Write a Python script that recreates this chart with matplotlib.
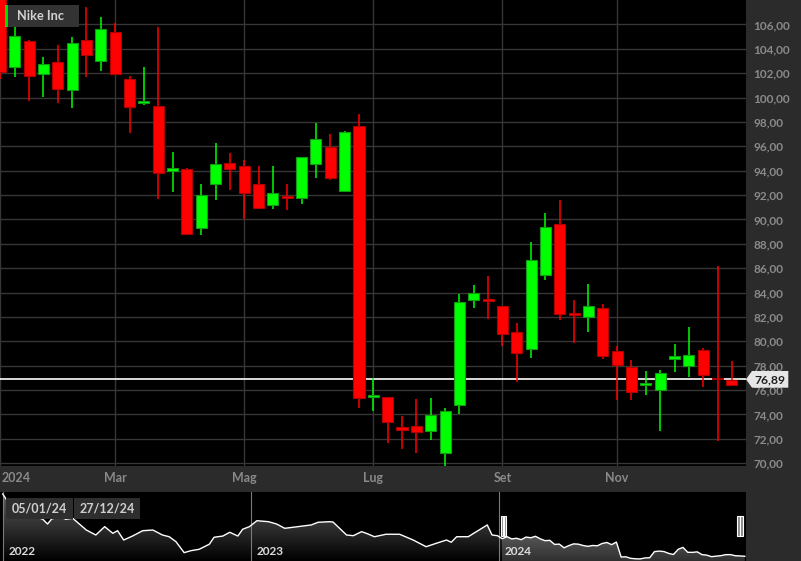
"""
Nike Inc - bougies hebdomadaires 2024 + navigateur 2022-2024 (style terminal sombre).
"""
import numpy as np
import pandas as pd
import matplotlib
matplotlib.use("Agg")
import matplotlib.pyplot as plt
import matplotlib.dates as mdates
from matplotlib.patches import Rectangle, Polygon
from matplotlib.colors import LinearSegmentedColormap

plt.rcParams["font.family"] = ["Lato", "DejaVu Sans"]

# ============================================================================
# DONNÉES
# ============================================================================
TITLE = "Nike Inc"
FIRST_WEEK = "2024-01-05"

OPEN = [108.30, 102.52, 104.66, 101.92, 102.88, 100.61, 104.69, 102.99, 105.37, 101.49,
        99.55, 99.29, 93.98, 94.14, 89.30, 92.94, 94.61, 94.42, 92.89, 91.19,
        91.93, 91.79, 94.55, 95.93, 92.34, 97.68, 75.47, 75.39, 72.95, 73.03,
        72.68, 70.85, 74.74, 83.42, 83.47, 82.87, 80.73, 79.39, 85.44, 89.66,
        82.35, 81.96, 82.70, 79.17, 77.88, 76.38, 75.97, 78.51, 78.00, 79.28,
        77.01, 76.79]
HIGH = [108.80, 105.81, 104.75, 103.29, 104.28, 104.94, 107.40, 106.58, 106.09, 101.73,
        102.47, 105.76, 95.49, 94.20, 92.89, 96.23, 95.41, 94.86, 94.37, 94.37,
        92.89, 95.12, 97.95, 96.97, 97.25, 98.61, 77.01, 75.45, 73.86, 75.29,
        75.37, 74.51, 83.91, 84.65, 85.37, 82.90, 81.53, 88.18, 90.56, 91.63,
        83.42, 84.73, 83.09, 79.61, 78.43, 77.55, 77.61, 79.80, 81.17, 79.44,
        86.15, 78.35]
LOW = [101.50, 101.70, 99.70, 100.06, 99.52, 99.10, 101.65, 102.14, 101.86, 97.05,
       99.35, 91.71, 92.25, 88.76, 88.76, 91.63, 92.45, 90.01, 90.88, 90.86,
       90.81, 91.30, 93.40, 93.22, 92.25, 74.51, 74.27, 71.67, 71.18, 70.87,
       71.92, 69.78, 74.05, 82.73, 81.86, 79.64, 76.65, 78.62, 85.06, 81.77,
       79.85, 80.79, 78.51, 75.20, 75.15, 75.61, 72.62, 77.47, 77.06, 76.24,
       71.86, 76.30]
CLOSE = [102.10, 105.07, 101.78, 102.74, 100.69, 104.49, 103.51, 105.62, 101.92, 99.19,
         99.72, 93.77, 94.20, 88.84, 91.98, 94.53, 94.12, 92.17, 90.92, 92.17,
         91.79, 95.08, 96.58, 93.38, 97.18, 75.33, 75.61, 73.42, 72.74, 72.54,
         73.97, 74.27, 83.19, 84.00, 83.30, 80.62, 79.01, 86.64, 89.41, 82.23,
         82.15, 82.89, 78.82, 78.08, 75.83, 76.60, 77.36, 78.78, 78.84, 77.20,
         76.93, 76.38]
LAST_PRICE = 76.89

MONTH_LABELS = {1: "2024", 3: "Mar", 5: "Mag", 7: "Lug", 9: "Set", 11: "Nov"}
Y_TICKS = list(range(70, 107, 2))

# Navigateur : historique 2022-2023 (le tronçon 2024 reprend les clôtures ci-dessus)
NAV_DATES = ["2021-12-31", "2022-01-07", "2022-01-14", "2022-01-21", "2022-01-28",
             "2022-02-04", "2022-02-11", "2022-02-18", "2022-02-28", "2022-03-07",
             "2022-03-13", "2022-03-25", "2022-04-03", "2022-04-13", "2022-05-03",
             "2022-05-17", "2022-05-30", "2022-06-11", "2022-06-18", "2022-06-27",
             "2022-07-10", "2022-07-25", "2022-08-09", "2022-08-23", "2022-09-02",
             "2022-09-12", "2022-09-24", "2022-10-04", "2022-10-16", "2022-10-31",
             "2022-11-07", "2022-11-20", "2022-11-30", "2022-12-12", "2022-12-19",
             "2022-12-29", "2023-01-09", "2023-01-26", "2023-02-07", "2023-02-19",
             "2023-03-03", "2023-03-18", "2023-03-30", "2023-04-09", "2023-04-26",
             "2023-05-01", "2023-05-21", "2023-05-31", "2023-06-12", "2023-06-19",
             "2023-07-01", "2023-07-18", "2023-08-07", "2023-08-27", "2023-09-15",
             "2023-09-30", "2023-10-15", "2023-10-22", "2023-10-30", "2023-11-16",
             "2023-11-28", "2023-12-14", "2023-12-21", "2023-12-29"]
NAV_CLOSE = [167.5, 157.0, 150.0, 146.0, 147.0,
             142.0, 138.0, 134.0, 130.5, 123.6,
             131.0, 134.0, 130.5, 132.0, 114.8,
             107.5, 119.7, 110.0, 113.8, 100.2,
             106.0, 113.8, 114.8, 107.5, 105.0,
             97.7, 81.7, 84.6, 86.6, 94.0,
             104.2, 106.0, 111.5, 106.0, 115.9,
             119.7, 128.4, 127.0, 123.6, 117.3,
             118.8, 120.7, 122.2, 126.1, 127.0,
             126.5, 107.5, 106.5, 112.4, 110.0,
             105.0, 108.6, 108.6, 100.2, 90.4,
             95.4, 100.2, 96.9, 105.0, 105.0,
             112.4, 122.2, 107.5, 106.5]
NAV_YEARS = ["2022", "2023", "2024"]

# ============================================================================
# STYLE
# ============================================================================
W, H, DPI = 801, 561, 100
PANEL = "#2b2b2b"
GRID = "#363636"
AXIS_TXT = "#8a8a8a"
UP, UP_EDGE = "#00ff00", "#129a12"
DOWN, DOWN_EDGE = "#ff0000", "#b00000"

fig = plt.figure(figsize=(W / DPI, H / DPI), dpi=DPI, facecolor=PANEL)


def px_axes(left, top, right, bottom):
    return fig.add_axes([left / W, 1 - bottom / H, (right - left) / W, (bottom - top) / H])


def px_rect(left, top, right, bottom, color, z=5):
    fig.add_artist(Rectangle((left / W, 1 - bottom / H), (right - left) / W, (bottom - top) / H,
                             transform=fig.transFigure, facecolor=color, edgecolor="none", zorder=z))


def px_text(x, y, s, **kw):
    fig.text(x / W, 1 - y / H, s, fontweight="bold", zorder=6, **kw)


# ============================================================================
# GRAPHIQUE PRINCIPAL
# ============================================================================
weeks = pd.date_range(FIRST_WEEK, periods=len(CLOSE), freq="7D")
x = np.arange(len(CLOSE))
o, h, l, c = map(np.array, (OPEN, HIGH, LOW, CLOSE))
up = c >= o

ax = px_axes(0, 0, 745.5, 466)
ax.set_facecolor("black")
ax.vlines(x, l, h, colors=np.where(up, UP, DOWN), lw=1.1, zorder=3)
ax.bar(x, np.abs(c - o), bottom=np.minimum(o, c), width=0.77,
       color=np.where(up, UP, DOWN), edgecolor=np.where(up, UP_EDGE, DOWN_EDGE),
       linewidth=0.8, zorder=4)
ax.axhline(LAST_PRICE, color="white", lw=1.2, zorder=2)

ax.set_xlim(-0.03, 51.95)
ax.set_ylim(69.77, 108.0)
ax.set_yticks(Y_TICKS)
ax.set_yticklabels([f"{v:.2f}".replace(".", ",") for v in Y_TICKS], fontweight="bold")
ax.yaxis.tick_right()
ax.tick_params(axis="y", length=0, pad=5.4, labelcolor=AXIS_TXT, labelsize=8.5)

# premier bougie de chaque mois étiqueté
month_idx = [int(np.argmax(weeks.month == m)) for m in MONTH_LABELS]
ax.set_xticks(month_idx)
ax.set_xticklabels([])
ax.tick_params(axis="x", length=0)
for i, (m, lab) in zip(month_idx, MONTH_LABELS.items()):
    first = i == 0
    ax.annotate(lab, (i, 0), xycoords=("data", "axes fraction"),
                xytext=(1 if first else 0, -8.8), textcoords="offset points",
                ha="left" if first else "center", va="center",
                color=AXIS_TXT, fontsize=9, fontweight="bold", annotation_clip=False)

ax.grid(True, color=GRID, lw=1.0)
ax.set_axisbelow(True)
for s in ax.spines.values():
    s.set_visible(False)

# étiquette du titre
px_rect(5, 5, 8, 26.7, "#00dd00")
px_rect(8, 5, 79, 26.7, "#333333")
px_text(16.7, 16, TITLE, color="#d2d2d2", fontsize=9.2, ha="left", va="center")

# étiquette du dernier prix
fig.add_artist(Polygon([(746 / W, 1 - 379.3 / H), (752 / W, 1 - 371 / H), (788.3 / W, 1 - 371 / H),
                        (788.3 / W, 1 - 387.7 / H), (752 / W, 1 - 387.7 / H)],
                       closed=True, transform=fig.transFigure, facecolor="#e6e6e6",
                       edgecolor="none", zorder=5))
px_text(770, 379.8, f"{LAST_PRICE:.2f}".replace(".", ","), color="#1e1e1e",
        fontsize=8.7, ha="center", va="center")

# ============================================================================
# NAVIGATEUR
# ============================================================================
nav = px_axes(0, 491.5, 745.5, 561)
nav.set_facecolor("black")

nav_x = mdates.date2num(pd.to_datetime(NAV_DATES + list(weeks)))
nav_y = np.array(NAV_CLOSE + CLOSE)
y0, y1 = 69.5, 171.1

poly = Polygon(np.column_stack([np.r_[nav_x[0], nav_x, nav_x[-1]], np.r_[y0, nav_y, y0]]),
               closed=True, facecolor="none", edgecolor="none")
nav.add_patch(poly)
grad = np.linspace(0, 1, 256).reshape(-1, 1)
dim = LinearSegmentedColormap.from_list("dim", ["#000000", "#606060"])
bright = LinearSegmentedColormap.from_list("bright", ["#303030", "#9a9a9a"])
im = nav.imshow(grad, extent=[nav_x[0], nav_x[-1], y0, y1], origin="lower",
                aspect="auto", cmap=dim, zorder=1)
im.set_clip_path(poly)
sel0, sel1 = mdates.date2num(weeks[0]), mdates.date2num(weeks[-1])
im2 = nav.imshow(grad, extent=[sel0, sel1, y0, y1], origin="lower",
                 aspect="auto", cmap=bright, zorder=1.1)
im2.set_clip_path(poly)
nav.plot(nav_x, nav_y, color="white", lw=1.0, zorder=3)

nav.set_xlim(mdates.date2num(pd.Timestamp("2021-12-27")), mdates.date2num(pd.Timestamp("2024-12-28")))
nav.set_ylim(y0, y1)
nav.set_xticks([])
nav.set_yticks([])
for s in nav.spines.values():
    s.set_visible(False)

for yr in NAV_YEARS:
    d = mdates.date2num(pd.Timestamp(f"{yr}-01-01"))
    nav.axvline(d, color="#7a7a7a", lw=0.8, zorder=2)
    nav.text(d + 7, 0.13, yr, transform=nav.get_xaxis_transform(), color="#dcdcdc",
             fontsize=8.5, fontweight="bold", ha="left", va="center", zorder=4)

# poignées de sélection (deux barrettes, placées à l'intérieur de la sélection)
xt = nav.get_xaxis_transform()
for start in (sel0 - 2, sel1 - 11):
    for k in range(2):
        nav.add_patch(Rectangle((start + k * 4.5, 0.353), 3.2, 0.294, transform=xt,
                                facecolor="#8a8a8a", edgecolor="white", lw=0.8, zorder=5))

# étiquettes des dates sélectionnées
px_rect(6, 498, 72.7, 518.7, "#2e2e2e")
px_rect(74, 498, 140, 518.7, "#2e2e2e")
px_text(39.3, 508.5, weeks[0].strftime("%d/%m/%y"), color="#cfcfcf", fontsize=9,
        ha="center", va="center")
px_text(107, 508.5, weeks[-1].strftime("%d/%m/%y"), color="#cfcfcf", fontsize=9,
        ha="center", va="center")

fig.savefig("out.png", dpi=DPI, facecolor=PANEL)
